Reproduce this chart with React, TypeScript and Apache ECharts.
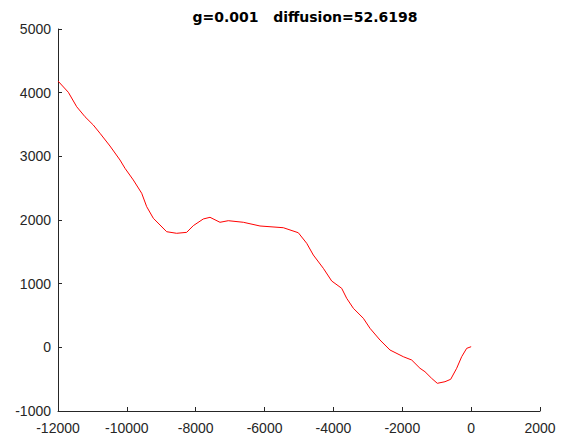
import React, { useEffect, useRef } from "react";
import * as echarts from "echarts";

const titleText = "g=0.001   diffusion=52.6198";

const xValues = [
  -12000, -11700, -11457, -11216, -10975, -10780, -10490, -10199, -10054, -9813,
  -9569, -9424, -9231, -8844, -8554, -8263, -8070, -7780, -7585, -7295,
  -7054, -6616, -6133, -5456, -5020, -4776, -4584, -4293, -4051, -3760,
  -3615, -3421, -3131, -2938, -2648, -2357, -1971, -1727, -1486, -1341,
  -1147, -983, -760, -594, -420, -275, -130, 0,
];
const yValues = [
  4183, 4006, 3779, 3622, 3492, 3362, 3162, 2942, 2812, 2629,
  2420, 2209, 2027, 1816, 1791, 1806, 1911, 2016, 2042, 1964,
  1989, 1964, 1906, 1879, 1800, 1634, 1450, 1241, 1042, 927,
  770, 613, 456, 299, 115, -42, -147, -199, -329, -383,
  -487, -565, -540, -502, -329, -147, -16, 10,
];

const xMin = -12000;
const xMax = 2000;
const xStep = 2000;
const yMin = -1000;
const yMax = 5000;
const yStep = 1000;

const axisColor = "#262626";
const fontFamily = "'Liberation Sans', Arial, Helvetica, sans-serif";

export default function App() {
  const ref = useRef<HTMLDivElement>(null);
  useEffect(() => {
    if (!ref.current) return;
    const chart = echarts.init(ref.current, null, { renderer: "svg" });
    const axisCommon = {
      axisLine: { show: true, onZero: false, lineStyle: { color: axisColor, width: 1 } },
      axisTick: { show: true, inside: true, length: 4, lineStyle: { color: axisColor } },
      splitLine: { show: false },
    };
    const fmt = (v: number) => String(v);
    chart.setOption({
      animation: false,
      backgroundColor: "#ffffff",
      textStyle: { fontFamily },
      title: {
        text: titleText,
        left: 300,
        textAlign: "center",
        top: 5,
        textStyle: { fontSize: 14, fontWeight: "bold", color: "#000", fontFamily: "'DejaVu Sans', sans-serif" },
      },
      grid: { left: 58, right: 30, top: 29, bottom: 30, containLabel: false },
      xAxis: {
        type: "value",
        min: xMin,
        max: xMax,
        interval: xStep,
        ...axisCommon,
        axisLabel: { color: axisColor, fontSize: 14, margin: 10, fontFamily, formatter: fmt },
      },
      yAxis: {
        type: "value",
        min: yMin,
        max: yMax,
        interval: yStep,
        ...axisCommon,
        axisLabel: { color: axisColor, fontSize: 14, margin: 7, fontFamily, formatter: fmt },
      },
      series: [
        {
          type: "line",
          data: xValues.map((x, i) => [x, yValues[i]]),
          symbol: "none",
          lineStyle: { color: "#ff0000", width: 1 },
          itemStyle: { color: "#ff0000" },
        },
      ],
    });
    return () => chart.dispose();
  }, []);
  return <div ref={ref} style={{ width: 570, height: 441, position: "absolute", left: 0, top: 0 }} />;
}
